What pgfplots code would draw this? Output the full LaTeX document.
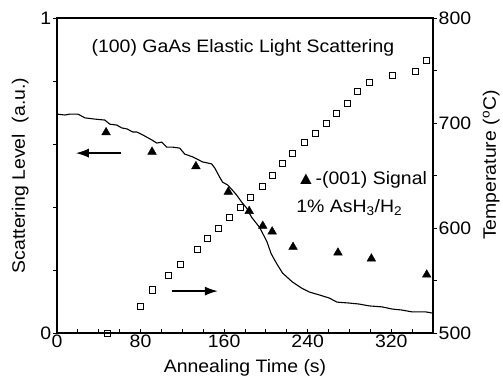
\documentclass[border=0pt]{standalone}
\usepackage{fontspec}
\setmainfont{Liberation Sans}[FakeStretch=1.08]
\usepackage{pgfplots}
\pgfplotsset{compat=1.18}
\usetikzlibrary{arrows.meta}

\pgfplotstableread{
t v
0 0.695
7.6 0.692
12.4 0.695
20 0.695
26.7 0.683
36.3 0.679
45.8 0.676
50.6 0.663
57.3 0.660
62 0.651
66.9 0.648
72.6 0.638
76.4 0.638
82 0.629
90.7 0.613
95.5 0.603
100.3 0.606
105 0.590
110.8 0.590
117.5 0.587
122.3 0.568
130 0.559
139.4 0.543
148 0.537
151 0.524
155.7 0.495
158.5 0.479
163.3 0.470
167 0.457
172 0.438
176.7 0.416
181.5 0.397
186.2 0.368
194 0.335
201 0.290
205 0.252
210 0.222
216 0.190
225.4 0.162
234 0.143
241.6 0.130
251 0.121
260.7 0.111
268 0.098
280 0.095
289 0.092
299 0.086
311 0.083
321 0.076
330 0.073
340 0.067
353 0.067
360 0.063
}\scatter

\pgfplotstableread{
t v
47 0.637
91 0.575
133 0.529
164 0.448
184 0.387
197 0.340
206 0.322
226 0.273
269 0.255
301 0.236
354 0.185
}\signal

\pgfplotstableread{
t T
48 500
80 525
91 541
107 555
118 565
134 580
144 590.5
155 600
165 610.5
176 620
185 629.5
197 640
206 650.5
216 661
225 671.4
237 681
247 690.5
258 700
268 709.5
278 719
288 730.5
299 739
321 745
343 749.5
354 760
}\temp

\begin{document}
\fontsize{18bp}{21bp}\selectfont
\begin{tikzpicture}
\useasboundingbox (-57bp,-48bp) rectangle (446bp,333bp);
\begin{axis}[
  width=376bp, height=315bp, scale only axis,
  xmin=0, xmax=360, ymin=0, ymax=1,
  axis line style={line width=1.1bp},
  xtick={0,80,160,240,320},
  minor xtick={20,40,60,100,120,140,180,200,220,260,280,300,340,360},
  ytick={0,1},
  minor ytick={0.2,0.4,0.6,0.8},
  xtick pos=bottom, ytick pos=left,
  xtick align=inside, ytick align=outside,
  major tick length=4bp, minor tick length=4bp,
  tick style={line width=0.9bp, black},
  /pgf/number format/assume math mode=true,
  xticklabel style={inner sep=1bp, yshift=-1bp},
  yticklabel style={inner sep=1.5bp},
  xlabel={Annealing Time (s)},
  ylabel={Scattering Level\ \ (a.u.)},
  xlabel style={at={(axis description cs:0.5,-0.111)}, anchor=center},
  ylabel style={at={(axis description cs:-0.098,0.5)}, anchor=center, rotate=0},
  clip=false,
]
\addplot[black, line width=1.1bp, no marks] table[x=t,y=v] {\scatter};
\addplot[only marks, mark=triangle*, mark size=5bp, black] table[x=t,y=v] {\signal};
\draw[line width=1.4bp, -{Latex[length=13bp,width=9bp]}] (axis cs:61,0.571) -- (axis cs:18,0.571);
\draw[line width=1.4bp, -{Latex[length=13bp,width=9bp]}] (axis cs:110,0.133) -- (axis cs:154,0.133);
\node at (axis cs:178,0.905) {(100) GaAs Elastic Light Scattering};
\node[anchor=west, inner sep=0pt] at (axis cs:229,0.486) {▲-(001) Signal};
\node[anchor=west, inner sep=0pt] at (axis cs:229,0.397) {1\% AsH\textsubscript{3}/H\textsubscript{2}};
\end{axis}
\begin{axis}[
  width=376bp, height=315bp, scale only axis,
  xmin=0, xmax=360, ymin=500, ymax=800,
  axis x line=none, axis y line*=right,
  axis line style={line width=1.1bp},
  ytick={500,600,700,800},
  minor ytick={550,650,750},
  ytick align=outside,
  major tick length=4bp, minor tick length=4bp,
  tick style={line width=0.9bp, black},
  /pgf/number format/assume math mode=true,
  yticklabel style={inner sep=1.5bp},
  ylabel={Temperature (\textsuperscript{o}C)},
  ylabel style={at={(axis description cs:1.155,0.533)}, anchor=center, rotate=0},
]
\addplot[only marks, mark=square, mark size=3bp, line width=0.9bp, black] table[x=t,y=T] {\temp};
\end{axis}
\end{tikzpicture}
\end{document}
